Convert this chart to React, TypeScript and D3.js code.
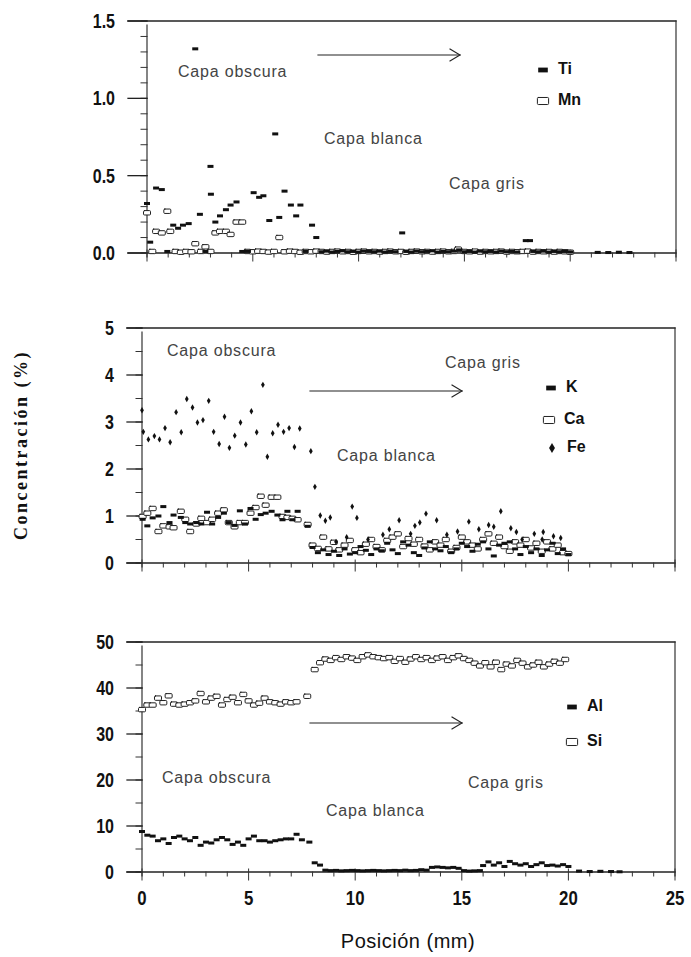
import React, { useEffect, useRef } from "react";
import * as d3 from "d3";

type Pt = [number, number];

// x axis (mm)
const xTickLabels = ["0", "5", "10", "15", "20", "25"];
const xTickValues = [0, 5, 10, 15, 20, 25];

// top panel: Ti / Mn
const topTickValues = [0, 0.5, 1.0, 1.5];
const topTickLabels = ["0.0", "0.5", "1.0", "1.5"];

const tiPoints: Pt[] = [
  [0.0, 0.32], [0.15, 0.07], [0.43, 0.42], [0.7, 0.41], [0.96, 0.01], [1.24, 0.18], [1.47, 0.16],
  [1.7, 0.18], [1.97, 0.19], [2.28, 1.32], [2.5, 0.25], [2.76, 0.01], [3.0, 0.56], [3.02, 0.38],
  [3.23, 0.2], [3.45, 0.24], [3.73, 0.28], [3.95, 0.31], [4.23, 0.33], [4.5, 0.01], [4.77, 0.01],
  [5.04, 0.39], [5.3, 0.36], [5.5, 0.37], [5.78, 0.21], [6.06, 0.77], [6.25, 0.23], [6.5, 0.4],
  [6.8, 0.31], [7.05, 0.24], [7.25, 0.31], [7.5, 0.01], [7.8, 0.18], [8.0, 0.1], [8.25, 0.008],
  [8.5, 0.012], [8.75, 0.006], [9.0, 0.01], [9.25, 0.014], [9.5, 0.008], [9.75, 0.01], [10.0, 0.006],
  [10.25, 0.012], [10.5, 0.01], [10.75, 0.008], [11.0, 0.012], [11.25, 0.006], [11.5, 0.01],
  [11.75, 0.008], [12.06, 0.13], [12.25, 0.01], [12.5, 0.006], [12.75, 0.012], [13.0, 0.008],
  [13.25, 0.01], [13.5, 0.014], [13.75, 0.006], [14.0, 0.01], [14.25, 0.008], [14.5, 0.012],
  [14.75, 0.02], [15.0, 0.008], [15.25, 0.01], [15.5, 0.006], [15.75, 0.012], [16.0, 0.008],
  [16.25, 0.01], [16.5, 0.006], [16.75, 0.012], [17.0, 0.008], [17.25, 0.01], [17.5, 0.006],
  [17.9, 0.08], [18.1, 0.08], [18.25, 0.01], [18.5, 0.008], [18.75, 0.012], [19.0, 0.006],
  [19.25, 0.01], [19.5, 0.008], [19.75, 0.01], [20.0, 0.006], [21.3, 0.004], [21.8, 0.003],
  [22.3, 0.005], [22.8, 0.003],
];

const mnPoints: Pt[] = [
  [0.0, 0.26], [0.25, 0.01], [0.43, 0.14], [0.7, 0.13], [0.96, 0.27], [1.1, 0.14], [1.35, 0.01],
  [1.6, 0.005], [1.85, 0.01], [2.1, 0.008], [2.28, 0.06], [2.55, 0.01], [2.76, 0.04], [3.0, 0.01],
  [3.23, 0.13], [3.45, 0.14], [3.73, 0.14], [3.95, 0.12], [4.23, 0.2], [4.5, 0.2], [4.75, 0.01],
  [5.0, 0.008], [5.25, 0.012], [5.5, 0.01], [5.75, 0.006], [6.0, 0.01], [6.25, 0.1], [6.5, 0.008],
  [6.75, 0.012], [7.0, 0.01], [7.25, 0.005], [7.5, 0.01], [7.75, 0.008], [8.0, 0.012], [8.25, 0.01],
  [8.5, 0.006], [8.75, 0.01], [9.0, 0.012], [9.25, 0.008], [9.5, 0.01], [9.75, 0.005], [10.0, 0.01],
  [10.25, 0.012], [10.5, 0.008], [10.75, 0.01], [11.0, 0.006], [11.25, 0.01], [11.5, 0.012],
  [11.75, 0.008], [12.0, 0.01], [12.25, 0.005], [12.5, 0.01], [12.75, 0.012], [13.0, 0.008],
  [13.25, 0.01], [13.5, 0.006], [13.75, 0.01], [14.0, 0.012], [14.25, 0.008], [14.5, 0.01],
  [14.7, 0.025], [15.0, 0.01], [15.25, 0.008], [15.5, 0.012], [15.75, 0.006], [16.0, 0.01],
  [16.25, 0.008], [16.5, 0.01], [16.75, 0.012], [17.0, 0.006], [17.25, 0.01], [17.5, 0.008],
  [17.75, 0.01], [18.0, 0.012], [18.25, 0.006], [18.5, 0.01], [18.75, 0.008], [19.0, 0.01],
  [19.25, 0.006], [19.5, 0.01], [19.75, 0.008], [20.0, 0.005],
];

// middle panel: K / Ca / Fe
const midTickValues = [0, 1, 2, 3, 4, 5];
const midTickLabels = ["0", "1", "2", "3", "4", "5"];

const kPoints: Pt[] = [
  [0.03, 0.93], [0.25, 0.79], [0.5, 0.96], [0.77, 1.0], [1.0, 1.2], [1.29, 0.86], [1.48, 1.02],
  [1.82, 0.97], [2.03, 0.86], [2.26, 0.83], [2.55, 0.86], [2.78, 0.83], [3.05, 1.08], [3.29, 0.83],
  [3.57, 0.97], [3.84, 1.06], [4.07, 0.86], [4.34, 0.8], [4.59, 1.11], [4.83, 0.83], [5.09, 1.16],
  [5.33, 0.93], [5.57, 1.03], [5.8, 1.06], [6.08, 1.1], [6.35, 1.02], [6.59, 0.92], [6.82, 1.1],
  [7.06, 0.92], [7.3, 1.1], [7.77, 0.78],
  [8.0, 0.33], [8.25, 0.22], [8.5, 0.28], [8.75, 0.18], [9.0, 0.25], [9.25, 0.16], [9.5, 0.3],
  [9.75, 0.19], [10.0, 0.22], [10.25, 0.35], [10.5, 0.27], [10.75, 0.18], [11.0, 0.3], [11.25, 0.26],
  [11.5, 0.42], [11.75, 0.28], [12.0, 0.2], [12.25, 0.45], [12.5, 0.38], [12.75, 0.22], [13.0, 0.16],
  [13.25, 0.32], [13.5, 0.45], [13.75, 0.3], [14.0, 0.26], [14.25, 0.35], [14.5, 0.22], [14.75, 0.3],
  [15.0, 0.42], [15.25, 0.35], [15.5, 0.25], [15.75, 0.4], [16.0, 0.45], [16.25, 0.3], [16.5, 0.15],
  [16.75, 0.38], [17.0, 0.42], [17.25, 0.45], [17.5, 0.3], [17.75, 0.18], [18.0, 0.35], [18.25, 0.22],
  [18.5, 0.3], [18.75, 0.16], [19.0, 0.28], [19.25, 0.42], [19.5, 0.2], [19.75, 0.3], [20.0, 0.18],
];

const caPoints: Pt[] = [
  [0.03, 0.99], [0.25, 1.06], [0.5, 1.16], [0.77, 0.67], [1.0, 0.79], [1.29, 0.77], [1.48, 0.75],
  [1.82, 1.1], [2.03, 0.93], [2.26, 0.67], [2.55, 0.83], [2.78, 0.95], [3.05, 0.86], [3.29, 0.93],
  [3.57, 1.06], [3.84, 1.13], [4.07, 0.86], [4.34, 0.77], [4.59, 0.86], [4.83, 0.86], [5.09, 1.06],
  [5.33, 1.18], [5.57, 1.42], [5.8, 1.23], [6.08, 1.4], [6.35, 1.4], [6.59, 0.99], [6.82, 0.97],
  [7.06, 0.95], [7.3, 0.92], [7.77, 0.82],
  [8.0, 0.38], [8.25, 0.31], [8.5, 0.55], [8.75, 0.3], [9.0, 0.44], [9.25, 0.28], [9.5, 0.38],
  [9.75, 0.48], [10.0, 0.28], [10.25, 0.22], [10.5, 0.4], [10.75, 0.5], [11.0, 0.35], [11.25, 0.28],
  [11.5, 0.48], [11.75, 0.55], [12.0, 0.62], [12.25, 0.35], [12.5, 0.52], [12.75, 0.4], [13.0, 0.5],
  [13.25, 0.36], [13.5, 0.28], [13.75, 0.45], [14.0, 0.38], [14.25, 0.5], [14.5, 0.25], [14.75, 0.33],
  [15.0, 0.55], [15.25, 0.45], [15.5, 0.38], [15.75, 0.3], [16.0, 0.5], [16.25, 0.62], [16.5, 0.42],
  [16.75, 0.55], [17.0, 0.35], [17.25, 0.25], [17.5, 0.45], [17.75, 0.38], [18.0, 0.5], [18.25, 0.32],
  [18.5, 0.42], [18.75, 0.25], [19.0, 0.45], [19.25, 0.3], [19.5, 0.38], [19.75, 0.22], [20.0, 0.2],
];

const fePoints: Pt[] = [
  [0.0, 3.25], [0.06, 2.79], [0.3, 2.63], [0.58, 2.7], [0.82, 2.63], [1.08, 2.87], [1.32, 2.57],
  [1.6, 3.21], [1.84, 2.78], [2.1, 3.49], [2.37, 3.31], [2.6, 2.99], [2.86, 3.04], [3.13, 3.45],
  [3.36, 2.79], [3.62, 2.53], [3.87, 3.11], [4.1, 2.45], [4.35, 2.71], [4.62, 2.99], [4.87, 2.52],
  [5.13, 3.23], [5.38, 2.78], [5.67, 3.79], [5.88, 2.26], [6.13, 2.76], [6.38, 2.94], [6.64, 2.79],
  [6.9, 2.87], [7.15, 2.47], [7.4, 2.86], [7.92, 2.38], [8.11, 1.62], [8.36, 1.01], [8.6, 0.9],
  [8.83, 0.97], [9.1, 0.45], [9.6, 0.55], [9.86, 1.2], [10.08, 0.96], [10.6, 0.5], [11.3, 0.6],
  [11.6, 0.72], [12.06, 0.91], [12.6, 0.62], [12.8, 0.79], [13.03, 0.86], [13.32, 1.05], [13.82, 0.91],
  [14.3, 0.6], [14.8, 0.67], [15.33, 0.88], [15.8, 0.72], [16.26, 0.81], [16.5, 0.77], [16.83, 1.1],
  [17.3, 0.74], [17.56, 0.66], [17.83, 0.5], [18.4, 0.62], [18.77, 0.5], [18.82, 0.66], [19.3, 0.57],
  [19.64, 0.53],
];

// bottom panel: Al / Si
const botTickValues = [0, 10, 20, 30, 40, 50];
const botTickLabels = ["0", "10", "20", "30", "40", "50"];

const alPoints: Pt[] = [
  [0.0, 8.8], [0.25, 8.0], [0.5, 7.8], [0.75, 6.8], [1.0, 7.2], [1.25, 6.2], [1.5, 7.5], [1.75, 7.8],
  [2.0, 7.2], [2.25, 6.8], [2.5, 7.5], [2.75, 5.8], [3.0, 6.5], [3.25, 6.3], [3.5, 7.0], [3.75, 7.5],
  [4.0, 7.0], [4.25, 6.0], [4.5, 6.5], [4.75, 5.8], [5.0, 7.2], [5.25, 7.8], [5.5, 6.8], [5.75, 6.8],
  [6.0, 6.5], [6.25, 6.8], [6.5, 7.0], [6.75, 7.2], [7.0, 7.2], [7.25, 8.2], [7.5, 7.0], [7.85, 6.5],
  [8.1, 2.0], [8.35, 1.5], [8.6, 0.4], [8.85, 0.3], [9.1, 0.35], [9.35, 0.25], [9.6, 0.3], [9.85, 0.35],
  [10.1, 0.3], [10.35, 0.25], [10.6, 0.3], [10.85, 0.35], [11.1, 0.3], [11.35, 0.25], [11.6, 0.3],
  [11.85, 0.35], [12.1, 0.3], [12.35, 0.4], [12.6, 0.3], [12.85, 0.35], [13.1, 0.5], [13.35, 0.4],
  [13.6, 1.0], [13.85, 1.1], [14.1, 1.0], [14.35, 0.9], [14.6, 1.0], [14.85, 0.8], [15.1, 0.3],
  [15.35, 0.2], [15.6, 0.25], [15.85, 0.3], [16.0, 1.4], [16.25, 2.2], [16.5, 1.5], [16.75, 2.0],
  [17.0, 1.2], [17.25, 2.3], [17.5, 1.8], [17.75, 1.5], [18.0, 1.8], [18.25, 1.2], [18.5, 1.6],
  [18.75, 2.0], [19.0, 1.4], [19.25, 1.5], [19.5, 1.3], [19.75, 1.6], [20.0, 1.2], [20.5, 0.2],
  [21.0, 0.1], [21.5, 0.15], [22.0, 0.1], [22.4, 0.05],
];

const siPoints: Pt[] = [
  [0.0, 35.3], [0.25, 36.3], [0.5, 36.3], [0.75, 37.8], [1.0, 36.8], [1.25, 38.3], [1.5, 36.5],
  [1.75, 36.3], [2.0, 36.5], [2.25, 36.8], [2.5, 37.2], [2.75, 38.8], [3.0, 37.0], [3.25, 37.8],
  [3.5, 38.2], [3.75, 36.3], [4.0, 37.5], [4.25, 38.0], [4.5, 36.8], [4.75, 38.6], [5.0, 37.2],
  [5.25, 36.3], [5.5, 36.7], [5.75, 37.8], [6.0, 37.0], [6.25, 36.8], [6.5, 36.5], [6.75, 37.0],
  [7.0, 36.8], [7.25, 37.0], [7.75, 38.2],
  [8.1, 44.0], [8.35, 45.5], [8.6, 46.3], [8.85, 46.0], [9.1, 46.6], [9.35, 46.2], [9.6, 46.8],
  [9.85, 46.5], [10.1, 46.0], [10.35, 46.8], [10.6, 47.2], [10.85, 46.8], [11.1, 46.6], [11.35, 46.4],
  [11.6, 46.6], [11.85, 45.8], [12.1, 46.4], [12.35, 45.6], [12.6, 46.3], [12.85, 46.8], [13.1, 46.2],
  [13.35, 46.6], [13.6, 46.0], [13.85, 46.5], [14.1, 46.8], [14.35, 46.0], [14.6, 46.6], [14.85, 47.0],
  [15.1, 46.4], [15.35, 46.0], [15.6, 45.4], [15.85, 44.8], [16.1, 45.5], [16.35, 44.6], [16.6, 45.6],
  [16.85, 44.0], [17.1, 45.2], [17.35, 44.8], [17.6, 46.0], [17.85, 45.4], [18.1, 44.6], [18.35, 45.0],
  [18.6, 45.6], [18.85, 44.6], [19.1, 45.2], [19.35, 45.8], [19.6, 45.4], [19.85, 46.2],
];

type Kind = "dash" | "box" | "dot";
type Note = { text: string; x: number; y: number };

const panels = [
  {
    x0: 147, x1: 676, y0: 253, y1: 21, yMax: 1.5, minorStep: 0.1, majorLen: 19,
    ticks: topTickValues, labels: topTickLabels,
    series: [{ data: mnPoints, kind: "box" as Kind }, { data: tiPoints, kind: "dash" as Kind }],
    legend: [{ name: "Ti", kind: "dash" as Kind, x: 543, y: 70 }, { name: "Mn", kind: "box" as Kind, x: 543, y: 101 }],
    notes: [
      { text: "Capa obscura", x: 178, y: 77 },
      { text: "Capa blanca", x: 324, y: 144 },
      { text: "Capa gris", x: 449, y: 189 },
    ] as Note[],
    arrow: { x1: 318, x2: 460, y: 55 },
  },
  {
    x0: 142, x1: 675, y0: 563, y1: 328, yMax: 5, minorStep: 0.5, majorLen: 15,
    ticks: midTickValues, labels: midTickLabels,
    series: [
      { data: caPoints, kind: "box" as Kind },
      { data: kPoints, kind: "dash" as Kind },
      { data: fePoints, kind: "dot" as Kind },
    ],
    legend: [
      { name: "K", kind: "dash" as Kind, x: 551, y: 388 },
      { name: "Ca", kind: "box" as Kind, x: 549, y: 420 },
      { name: "Fe", kind: "dot" as Kind, x: 552, y: 448 },
    ],
    notes: [
      { text: "Capa obscura", x: 167, y: 356 },
      { text: "Capa gris", x: 445, y: 368 },
      { text: "Capa blanca", x: 337, y: 461 },
    ] as Note[],
    arrow: { x1: 310, x2: 462, y: 391 },
  },
  {
    x0: 142, x1: 675, y0: 872, y1: 642, yMax: 50, minorStep: 5, majorLen: 15,
    ticks: botTickValues, labels: botTickLabels,
    series: [{ data: siPoints, kind: "box" as Kind }, { data: alPoints, kind: "dash" as Kind }],
    legend: [{ name: "Al", kind: "dash" as Kind, x: 572, y: 707 }, { name: "Si", kind: "box" as Kind, x: 572, y: 742 }],
    notes: [
      { text: "Capa obscura", x: 162, y: 783 },
      { text: "Capa blanca", x: 326, y: 816 },
      { text: "Capa gris", x: 468, y: 788 },
    ] as Note[],
    arrow: { x1: 310, x2: 462, y: 723 },
  },
];

const numFont = "'Liberation Sans', Arial, sans-serif";
const sansFont = "'Liberation Sans', Arial, sans-serif";

function drawMark(g: any, kind: Kind, cx: number, cy: number, big: boolean) {
  const s = big ? 1.6 : 1;
  if (kind === "dash") {
    g.append("rect").attr("x", cx - 3 * s).attr("y", cy - 1.5 * s).attr("width", 6 * s).attr("height", 3 * s)
      .attr("fill", "#111");
  } else if (kind === "box") {
    g.append("rect").attr("x", cx - 3.5 * s).attr("y", cy - 2.2 * s).attr("width", 7 * s).attr("height", 4.4 * s)
      .attr("rx", 1).attr("fill", "#fff").attr("stroke", "#222").attr("stroke-width", 1);
  } else {
    g.append("path").attr("transform", `translate(${cx},${cy})`)
      .attr("d", d3.symbol(d3.symbolDiamond, big ? 30 : 12)()).attr("fill", "#111");
  }
}

// condensed bold numeric label (horizontal squeeze)
function numLabel(g: any, x: number, y: number, anchor: string, size: number, text: string) {
  g.append("text").attr("transform", `translate(${x},${y}) scale(0.8,1)`)
    .attr("text-anchor", anchor).attr("font-family", numFont).attr("font-weight", "bold")
    .attr("font-size", size).attr("fill", "#111").text(text);
}

function App() {
  const ref = useRef<SVGSVGElement>(null);

  useEffect(() => {
    const svg = d3.select(ref.current);
    svg.selectAll("*").remove();

    panels.forEach((p, pi) => {
      const x = d3.scaleLinear().domain([0, 25]).range([p.x0, p.x1]);
      const y = d3.scaleLinear().domain([0, p.yMax]).range([p.y0, p.y1]);
      const g = svg.append("g").attr("stroke-linecap", "square");

      // frame
      g.append("line").attr("x1", p.x0 - p.majorLen).attr("x2", p.x1).attr("y1", y(p.yMax)).attr("y2", y(p.yMax))
        .attr("stroke", "#222").attr("stroke-width", 1.3);
      g.append("line").attr("x1", p.x1).attr("x2", p.x1).attr("y1", y(p.yMax)).attr("y2", y(0) + 4)
        .attr("stroke", "#333").attr("stroke-width", 1.2);
      g.append("line").attr("x1", p.x0 - p.majorLen).attr("x2", p.x1).attr("y1", y(0)).attr("y2", y(0))
        .attr("stroke", "#222").attr("stroke-width", 1.3);
      g.append("line").attr("x1", p.x0).attr("x2", p.x0).attr("y1", y(p.yMax) + 4).attr("y2", y(0) + 4)
        .attr("stroke", "#333").attr("stroke-width", 1.2);

      // y ticks
      d3.range(0, p.yMax + p.minorStep / 2, p.minorStep).forEach((v) => {
        g.append("line").attr("x1", p.x0 - 6).attr("x2", p.x0).attr("y1", y(v)).attr("y2", y(v))
          .attr("stroke", "#333").attr("stroke-width", 1);
      });
      p.ticks.forEach((v, i) => {
        g.append("line").attr("x1", p.x0 - p.majorLen).attr("x2", p.x0).attr("y1", y(v)).attr("y2", y(v))
          .attr("stroke", "#222").attr("stroke-width", 1.3);
        numLabel(g, p.x0 - p.majorLen - 13, y(v) + 7, "end", 20, p.labels[i]);
      });

      // x ticks
      d3.range(0, 26, 1).forEach((v) => {
        const major = v % 5 === 0;
        g.append("line").attr("x1", x(v)).attr("x2", x(v)).attr("y1", y(0) - (major ? 3 : 0)).attr("y2", y(0) + (major ? 8 : 4))
          .attr("stroke", "#333").attr("stroke-width", 1);
      });

      // data
      p.series.forEach((s) => {
        const sg = g.append("g");
        s.data.forEach((d) => drawMark(sg, s.kind, x(d[0]), y(d[1]), false));
      });

      // legend
      p.legend.forEach((l) => {
        drawMark(g, l.kind, l.x, l.y, true);
        g.append("text").attr("x", l.x + 15).attr("y", l.y - 2).attr("dy", "0.36em")
          .attr("font-family", sansFont).attr("font-weight", "bold").attr("font-size", 16)
          .attr("fill", "#111").text(l.name);
      });

      // annotations
      p.notes.forEach((n) => {
        g.append("text").attr("x", n.x).attr("y", n.y).attr("font-family", sansFont)
          .attr("font-size", 16).attr("letter-spacing", 0.8).attr("fill", "#444").text(n.text);
      });

      const a = p.arrow;
      g.append("line").attr("x1", a.x1).attr("x2", a.x2).attr("y1", a.y).attr("y2", a.y)
        .attr("stroke", "#222").attr("stroke-width", 1.2);
      g.append("path").attr("d", `M${a.x2 - 10},${a.y - 6} L${a.x2},${a.y} L${a.x2 - 10},${a.y + 6}`)
        .attr("fill", "none").attr("stroke", "#222").attr("stroke-width", 1.1);

      // x tick labels on bottom panel only
      if (pi === panels.length - 1) {
        xTickValues.forEach((v, i) => numLabel(g, x(v), 905, "middle", 21, xTickLabels[i]));
      }
    });

    svg.append("text").attr("x", 408).attr("y", 948).attr("text-anchor", "middle")
      .attr("font-family", sansFont).attr("font-size", 20).attr("letter-spacing", 0.5)
      .attr("fill", "#111").text("Posición (mm)");

    svg.append("text").attr("transform", "translate(27,445) rotate(-90)").attr("text-anchor", "middle")
      .attr("font-family", "'Liberation Serif', 'Times New Roman', serif").attr("font-weight", "bold")
      .attr("font-size", 18).attr("letter-spacing", 2.5).attr("fill", "#111").text("Concentración (%)");
  }, []);

  return (
    <svg ref={ref} width={691} height={957}
      style={{ position: "absolute", left: 0, top: 0, background: "#fff" }} />
  );
}

export default App;
